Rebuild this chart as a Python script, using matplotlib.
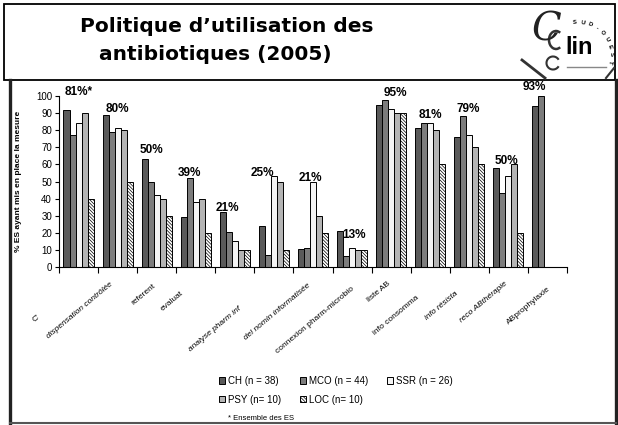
import numpy as np
import matplotlib
matplotlib.use("Agg")
import matplotlib.pyplot as plt
from matplotlib.patches import Rectangle, Patch, Arc
from matplotlib.lines import Line2D
import matplotlib.transforms as mtransforms

# ---------------- data ----------------
categories = ["C'", "dispensation contrôlée", "referent", "evaluat", "analyse pharm inf",
              "", "del nomin informatisée", "connexion pharm-microbio", "liste AB",
              "info consomma", "info résista", "reco ABthérapie", "ABprophylaxie"]
series_names = ["CH (n = 38)", "MCO (n = 44)", "SSR (n = 26)", "PSY (n= 10)", "LOC (n= 10)"]
CH  = [92, 89, 63, 29, 32, 24, 10.5, 21, 95, 81.5, 76, 58, 94]
MCO = [77, 79, 50, 52, 20.5, 7, 11, 6.5, 97.5, 84, 88.5, 43, 100]
SSR = [84.5, 81, 42, 38, 15, 53.5, 50, 11, 92.5, 84.5, 77, 53.5, np.nan]
PSY = [90, 80, 40, 40, 10, 50, 30, 10, 90, 80, 70, 60, np.nan]
LOC = [40, 50, 30, 20, 10, 10, 20, 10, 90, 60, 60, 20, np.nan]
overall_labels = ["81%*", "80%", "50%", "39%", "21%", "25%", "21%", "13%",
                  "95%", "81%", "79%", "50%", "93%"]
yticks = list(range(0, 101, 10))

# ---------------- layout / style ----------------
W, H = 618, 425
fig = plt.figure(figsize=(W / 100, H / 100), dpi=100)
FONT = ["Liberation Sans", "DejaVu Sans"]

def fx(x):
    return x / W

def fy(y):
    return 1 - y / H

ax = fig.add_axes([fx(59), fy(267), fx(567) - fx(59), fy(96) - fy(267)])

colors = ["#5a5a5a", "#7c7c7c", "#f4f4f4", "#b4b4b4", "#ffffff"]
hatches = [None, None, None, None, "\\" * 10]
plt.rcParams["hatch.linewidth"] = 0.5
series = [CH, MCO, SSR, PSY, LOC]
n = len(categories)
x = np.arange(n)
bw = 0.154
for k, (vals, c, h) in enumerate(zip(series, colors, hatches)):
    ax.bar(x + (k - 2) * bw, vals, width=bw, color=c, edgecolor="black",
           linewidth=0.7, hatch=h, label=series_names[k], zorder=2)

ax.set_xlim(-0.5, n - 0.5)
ax.set_ylim(0, 100)
ax.set_yticks(yticks)
ax.set_yticklabels([str(t) for t in yticks], fontsize=7, family=FONT)
ax.set_xticks(np.arange(-0.5, n, 1.0))
ax.set_xticklabels([])
ax.tick_params(axis="x", direction="out", length=4, width=0.8)
ax.tick_params(axis="y", direction="out", length=3, width=0.8, pad=2)
for s in ["top", "right"]:
    ax.spines[s].set_visible(False)
for s in ["left", "bottom"]:
    ax.spines[s].set_linewidth(0.8)

ax.set_ylabel("% ES ayant mis en place la mesure", fontsize=6, fontweight="bold",
              family=FONT, labelpad=10)

# group percentage labels
lab_dy = [8.5, 1.5, 3.5, 1.2, 0.5, -0.4, 0.1, -4.2, 2.5, 2.5, 2.0, 0.2, 3.5]
lab_dx = [0, 0, -0.13, -0.15, -0.18, -0.3, -0.06, 0.04, 0.11, 0, -0.04, -0.06, -0.33]
for i in range(n):
    top = np.nanmax([s[i] for s in series])
    ax.text(i + lab_dx[i], top + lab_dy[i], overall_labels[i], ha="center",
            va="baseline", fontsize=8.5, fontweight="bold", family=FONT,
            clip_on=False, zorder=5)

# rotated category labels
trans = mtransforms.blended_transform_factory(ax.transData, ax.transAxes)
lab_x = [-0.99, 0.86, 1.96, 2.67, 4.13, None, 5.92, 7.02, 7.97, 8.69, 9.68, 10.96, 12.06]
lab_y = [-0.287, -0.094, -0.105, -0.146, -0.24, None, -0.105, -0.123, -0.094,
         -0.175, -0.152, -0.094, -0.123]
italic = [False, True, False, False, True, False, True, False, False, False, True, True, False]
for i in range(n):
    if lab_x[i] is None:
        continue
    ax.text(lab_x[i], lab_y[i], categories[i], transform=trans, rotation=40,
            rotation_mode="anchor", ha="right", va="center", fontsize=6,
            style="italic" if italic[i] else "normal", family=FONT, clip_on=False)

# legend
order = [0, 3, 1, 4, 2]
leg_handles = [Patch(facecolor=colors[k], edgecolor="black", linewidth=0.7, hatch=hatches[k])
               for k in order]
leg_labels = [series_names[k] for k in order]
fig.legend(leg_handles, leg_labels, ncol=3, loc="upper left",
           bbox_to_anchor=(fx(214), fy(371)), frameon=False,
           prop={"family": FONT, "size": 7}, handlelength=0.65, handleheight=0.65,
           handletextpad=0.3, columnspacing=1.9, labelspacing=0.9, borderpad=0)
fig.text(fx(228), fy(418), "* Ensemble des ES", fontsize=5.5, family=FONT,
         ha="left", va="center")

# title
fig.text(fx(227), fy(26), "Politique d\u2019utilisation des", fontsize=14.5,
         fontweight="bold", ha="center", va="center", family=["DejaVu Sans"])
fig.text(fx(215), fy(55), "antibiotiques (2005)", fontsize=14.5,
         fontweight="bold", ha="center", va="center", family=["DejaVu Sans"])

# frames
fig.add_artist(Rectangle((fx(4), fy(80)), fx(611), fy(4) - fy(80), transform=fig.transFigure,
                         fill=False, edgecolor="black", linewidth=1.3))
fig.add_artist(Line2D([fx(10), fx(10)], [fy(80), fy(423)], transform=fig.transFigure,
                      color="#222222", linewidth=2.4))
fig.add_artist(Line2D([fx(616), fx(616)], [fy(80), fy(423)], transform=fig.transFigure,
                      color="#222222", linewidth=2.4))
fig.add_artist(Line2D([fx(10), fx(616)], [fy(423), fy(423)], transform=fig.transFigure,
                      color="#555555", linewidth=1.5))

# logo (approximation)
fig.text(fx(546), fy(30), "C", fontsize=28, style="italic", family=["DejaVu Serif"],
         ha="center", va="center", color="#222222")
pix = mtransforms.Affine2D().scale(1, -1).translate(0, H)
for (cx, cy, w, h, t1, t2, lw) in [(556, 40, 14, 18, 60, 300, 1.8),
                                   (553, 63, 13, 13, 30, 330, 1.5)]:
    fig.add_artist(Arc((cx, cy), w, h, theta1=t1, theta2=t2, transform=pix,
                       color="#333333", linewidth=lw))
fig.text(fx(579), fy(48), "lin", fontsize=17, fontweight="bold", family=FONT,
         ha="center", va="center", color="black")
letters = "SUD-OUEST"
angs = np.linspace(95, -12, len(letters))
for L, a in zip(letters, angs):
    r = 33
    cx, cy = 578, 55
    px = cx + r * np.cos(np.radians(a))
    py = cy - r * np.sin(np.radians(a))
    fig.text(fx(px), fy(py), L, fontsize=4.3, fontweight="bold", ha="center", va="center",
             rotation=a - 90, family=FONT)
fig.add_artist(Line2D([fx(567), fx(606)], [fy(67), fy(67)], transform=fig.transFigure,
                      color="#888888", linewidth=1))
fig.add_artist(Line2D([fx(522), fx(545)], [fy(60), fy(78)], transform=fig.transFigure,
                      color="#333333", linewidth=2))
fig.add_artist(Line2D([fx(606), fx(614)], [fy(78), fy(68)], transform=fig.transFigure,
                      color="#333333", linewidth=1.5))

fig.savefig("out.png", dpi=100)
